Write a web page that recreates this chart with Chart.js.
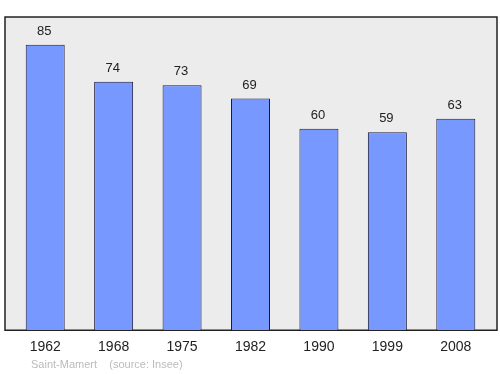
<!DOCTYPE html>
<html>
<head>
<meta charset="utf-8">
<script src="https://cdn.jsdelivr.net/npm/chart.js@4"></script>
<style>
  html, body { margin: 0; padding: 0; background: #fff; }
  #wrap { width: 500px; height: 374px; position: relative; }
</style>
</head>
<body>
<div id="wrap"><canvas id="pop"></canvas></div>
<script>
const years = ['1962', '1968', '1975', '1982', '1990', '1999', '2008'];
const population = [85, 74, 73, 69, 60, 59, 63];
const footerText = 'Saint-Mamert    (source: Insee)';

const FONT = '"Liberation Sans", Arial, sans-serif';

// grey frame behind the bars, plus value labels and the footer
const framePlugin = {
  id: 'frame',
  beforeDraw(chart) {
    const { ctx, chartArea: a } = chart;
    ctx.save();
    ctx.fillStyle = '#ececec';
    ctx.strokeStyle = '#222';
    ctx.lineWidth = 1.5;
    ctx.beginPath();
    ctx.rect(a.left - 6, a.top, a.right - a.left + 13, a.bottom - a.top);
    ctx.fill();
    ctx.stroke();
    ctx.restore();
  },
  afterDatasetsDraw(chart) {
    const { ctx } = chart;
    const meta = chart.getDatasetMeta(0);
    ctx.save();
    ctx.font = '13px ' + FONT;
    ctx.fillStyle = '#222';
    ctx.textAlign = 'center';
    ctx.textBaseline = 'bottom';
    meta.data.forEach((bar, i) => {
      ctx.fillText(String(population[i]), bar.x - 1, bar.y - 7);
    });
    ctx.font = '11px ' + FONT;
    ctx.fillStyle = '#bbb';
    ctx.textAlign = 'left';
    ctx.textBaseline = 'middle';
    ctx.fillText(footerText, 31, 365);
    ctx.restore();
  }
};

new Chart(document.querySelector('#pop'), {
  type: 'bar',
  data: {
    labels: years,
    datasets: [{
      data: population,
      backgroundColor: '#7799ff',
      borderColor: '#1a1a40',
      borderWidth: 1,
      barPercentage: 0.57,
      categoryPercentage: 1
    }]
  },
  options: {
    responsive: true,
    maintainAspectRatio: false,
    animation: false,
    layout: { padding: { left: 11, right: 10, top: 17, bottom: 9 } },
    plugins: { legend: { display: false }, tooltip: { enabled: false } },
    scales: {
      x: {
        grid: { display: false, drawTicks: false },
        border: { display: false },
        ticks: { color: '#222', font: { family: FONT, size: 14 }, padding: 9 }
      },
      y: { display: false, min: 0, max: 93.3 }
    }
  },
  plugins: [framePlugin]
});
</script>
</body>
</html>
